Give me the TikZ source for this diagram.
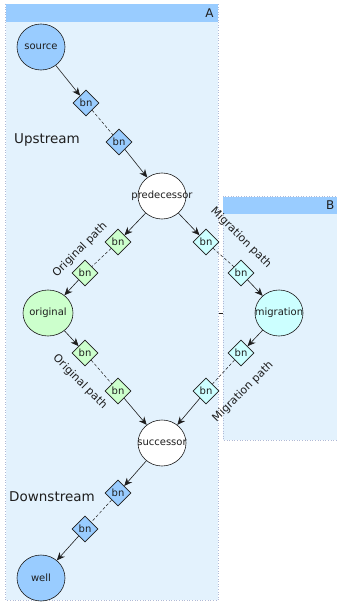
\documentclass[tikz,border=0pt]{standalone}
\usepackage{fontspec}
\setmainfont{DejaVu Sans}
\usetikzlibrary{shapes.geometric,arrows.meta}
\definecolor{lanefill}{RGB}{227,242,253}
\definecolor{lanehead}{RGB}{153,204,255}
\definecolor{laneedge}{RGB}{176,186,214}
\definecolor{bluenode}{RGB}{153,204,255}
\definecolor{greennode}{RGB}{204,255,204}
\definecolor{cyannode}{RGB}{204,255,255}
\definecolor{ink}{RGB}{30,30,30}
\tikzset{
  lane/.style={fill=lanefill, draw=laneedge, dotted, line width=0.6pt},
  lanetop/.style={fill=lanehead, draw=none},
  place/.style={ellipse, draw=ink, line width=0.6pt, minimum width=48pt, minimum height=46pt, inner sep=0pt,
    label={[font=\fontsize{10}{12}\selectfont, text=ink, inner sep=0pt]center:#1}},
  bnode/.style={diamond, draw=ink, line width=0.6pt, minimum width=26pt, minimum height=26pt, inner sep=0pt, font=\fontsize{10}{12}\selectfont, text=ink},
  flow/.style={draw=ink, line width=0.6pt, -{Stealth[length=8pt,width=7pt]}},
  link/.style={draw=ink, line width=0.5pt, dashed, dash pattern=on 3pt off 2pt},
  pathlabel/.style={font=\fontsize{11}{13}\selectfont, text=ink},
  zonelabel/.style={font=\fontsize{13.5}{16}\selectfont, text=ink},
}
\begin{document}
\begin{tikzpicture}[x=1pt,y=-1pt]
\useasboundingbox (0,0) rectangle (337,602);
% swimlanes
\draw[lane] (5.5,4) rectangle (218,600);
\fill[lanetop] (5.5,4) rectangle (218,22);
\node[anchor=east, zonelabel, font=\fontsize{12}{14}\selectfont] (laneA) at (217,13) {A};
\draw[lane] (223,196.5) rectangle (345,440);
\fill[lanetop] (223,196.5) rectangle (345,214);
\node[anchor=east, zonelabel, font=\fontsize{12}{14}\selectfont] (laneB) at (338,205) {B};

% main nodes (fixed size; the name is centred over the shape)
\node[place=source, fill=bluenode] (source) at (41,47) {};
\node[place=predecessor, fill=white] (pred) at (162,196) {};
\node[place=original, fill=greennode, minimum width=50pt] (orig) at (48,313) {};
\node[place=migration, fill=cyannode] (migr) at (279,313) {};
\node[place=successor, fill=white] (succ) at (162,443) {};
\node[place=well, fill=bluenode] (well) at (41,578) {};

% boundary nodes
\node[bnode, fill=bluenode] (b1) at (86,103) {bn};
\node[bnode, fill=bluenode] (b2) at (119,142) {bn};
\node[bnode, fill=greennode] (g1) at (118,242) {bn};
\node[bnode, fill=greennode] (g2) at (85,273) {bn};
\node[bnode, fill=cyannode] (c1) at (206,242) {bn};
\node[bnode, fill=cyannode] (c2) at (241,273) {bn};
\node[bnode, fill=greennode] (g3) at (85,353) {bn};
\node[bnode, fill=greennode] (g4) at (118,391) {bn};
\node[bnode, fill=cyannode] (c3) at (241,353) {bn};
\node[bnode, fill=cyannode] (c4) at (206,391) {bn};
\node[bnode, fill=bluenode] (b3) at (118,493) {bn};
\node[bnode, fill=bluenode] (b4) at (85,529) {bn};

% connectors
\draw[flow] (source) -- (b1);
\draw[link] (b1) -- (b2);
\draw[flow] (b2) -- (pred);
\draw[flow] (pred) -- (g1);
\draw[link] (g1) -- (g2);
\draw[flow] (g2) -- (orig);
\draw[flow] (pred) -- (c1);
\draw[link] (c1) -- (c2);
\draw[flow] (c2) -- (migr);
\draw[flow] (orig) -- (g3);
\draw[link] (g3) -- (g4);
\draw[flow] (g4) -- (succ);
\draw[flow] (migr) -- (c3);
\draw[link] (c3) -- (c4);
\draw[flow] (c4) -- (succ);
\draw[flow] (succ) -- (b3);
\draw[link] (b3) -- (b4);
\draw[flow] (b4) -- (well);

% small tick between the lanes
\coordinate (tickL) at (218.5,313);
\coordinate (tickR) at (222.5,313);
\draw[ink, line width=0.6pt] (tickL) -- (tickR);

% labels
\node[zonelabel] (up) at (47,140) {Upstream};
\node[zonelabel] (down) at (52,497) {Downstream};
\node[pathlabel, rotate=45] (op1) at (80,250) {Original path};
\node[pathlabel, rotate=-45] (mp1) at (241,238) {Migration path};
\node[pathlabel, rotate=-45] (op2) at (80,382) {Original path};
\node[pathlabel, rotate=45] (mp2) at (243,392) {Migration path};
\end{tikzpicture}
\end{document}
